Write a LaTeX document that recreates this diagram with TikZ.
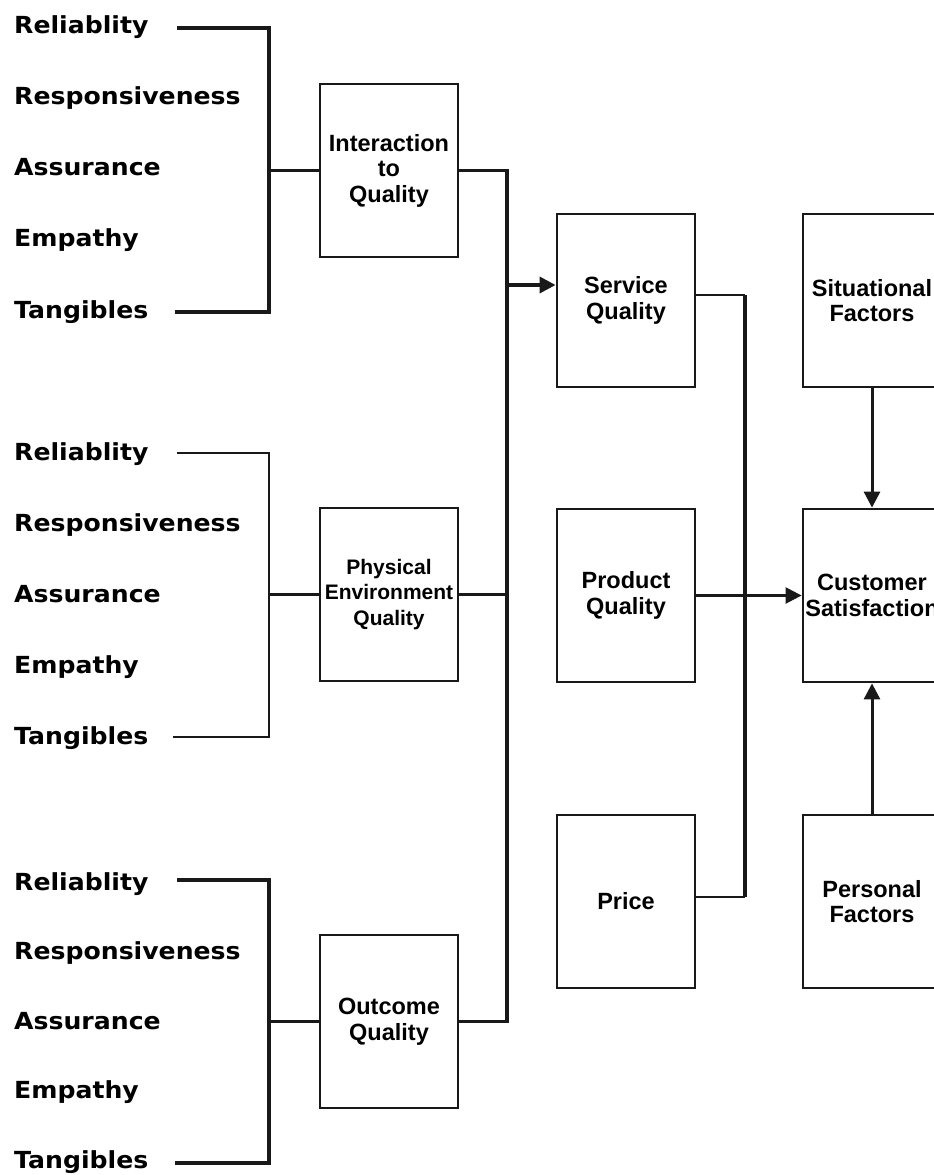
\documentclass[tikz,border=0pt]{standalone}
\usepackage{fontspec}
\setmainfont{Liberation Sans}
\newfontfamily\lblfont[FakeStretch=1.07]{DejaVu Sans}
\usetikzlibrary{arrows.meta}
\begin{document}
\begin{tikzpicture}[x=1pt,y=-1pt,
  qbox/.style={draw=black!90,line width=2.8pt,minimum width=138pt,minimum height=173pt,inner sep=0pt,align=center,font=\bfseries\fontsize{23.5}{25.5}\selectfont},
  pbox/.style={qbox,font=\bfseries\fontsize{21}{25.5}\selectfont},
  lbl/.style={anchor=base west,inner sep=0pt,font=\lblfont\bfseries\fontsize{23.5}{23.5}\selectfont},
  thk/.style={line width=3.5pt,draw=black!90},
  thn/.style={line width=2.4pt,draw=black!90},
  arr/.style={-{Triangle[length=16pt,width=16pt]}}
]
\useasboundingbox (0,0) rectangle (934,1175);

% boxes
\node[qbox] (iq) at (389,170.5) {Interaction\\to\\Quality};
\node[pbox] (peq) at (389,594.5) {Physical\\Environment\\Quality};
\node[qbox] (oq) at (389,1021.5) {Outcome\\Quality};
\node[qbox] (sq) at (626,300.5) {Service\\Quality};
\node[qbox] (pq) at (626,595.5) {Product\\Quality};
\node[qbox] (pr) at (626,901.5) {Price};
\node[qbox] (sf) at (872,300.5) {Situational\\Factors};
\node[qbox] (cs) at (872,595.5) {Customer\\Satisfaction};
\node[qbox] (pf) at (872,901.5) {Personal\\Factors};

% label groups
\foreach \g/\b/\s in {t/33/71.25, m/460/71, b/890/69.5}{
  \node[lbl] (\g1) at (14,\b) {Reliablity};
  \node[lbl] (\g2) at (14,\b+\s) {Responsiveness};
  \node[lbl] (\g3) at (14,\b+2*\s) {Assurance};
  \node[lbl] (\g4) at (14,\b+3*\s) {Empathy};
  \node[lbl] (\g5) at (14,\b+4*\s) {Tangibles};
}

% brackets
\coordinate (ta) at (177,28);  \coordinate (tb) at (175,312);
\coordinate (ma) at (177,453); \coordinate (mb) at (173,737);
\coordinate (ba) at (177,880); \coordinate (bb) at (175,1163);
\draw[thk] (ta) -- (269,28) -- (269,312) -- (tb);
\draw[thk] (269,170.5) -- (iq.west);
\draw[thn] (ma) -- (269,453) -- (269,737) -- (mb);
\draw[thn] (269,594.5) -- (peq.west);
\draw[thk] (ba) -- (269,880) -- (269,1163) -- (bb);
\draw[thk] (269,1021.5) -- (oq.west);

% bus
\coordinate (bust) at (507,170.5);
\coordinate (busb) at (507,1021.5);
\coordinate (busa) at (507,285);
\draw[thk,line width=3.8pt] (iq.east) -- (bust) -- (busb) -- (oq.east);
\draw[thn] (peq.east) -- (peq.east -| bust);
\draw[thk,arr] (busa) -- (busa -| sq.west);

% service/price connector
\coordinate (s1) at (sq.east |- 0,295);
\coordinate (s2) at (745,295);
\coordinate (s3) at (745,897);
\coordinate (s4) at (pr.east |- 0,897);
\draw[thn] (s1) -- (s2);
\draw[thk,line width=4pt] (s2) -- (s3);
\draw[thn] (s3) -- (s4);

% arrows into customer satisfaction
\draw[thn,arr] (pq.east) -- (cs.west);
\draw[thk,line width=3pt,arr] (sf.south) -- (cs.north);
\draw[thk,line width=3pt,arr] (pf.north) -- (cs.south);
\end{tikzpicture}
\end{document}
